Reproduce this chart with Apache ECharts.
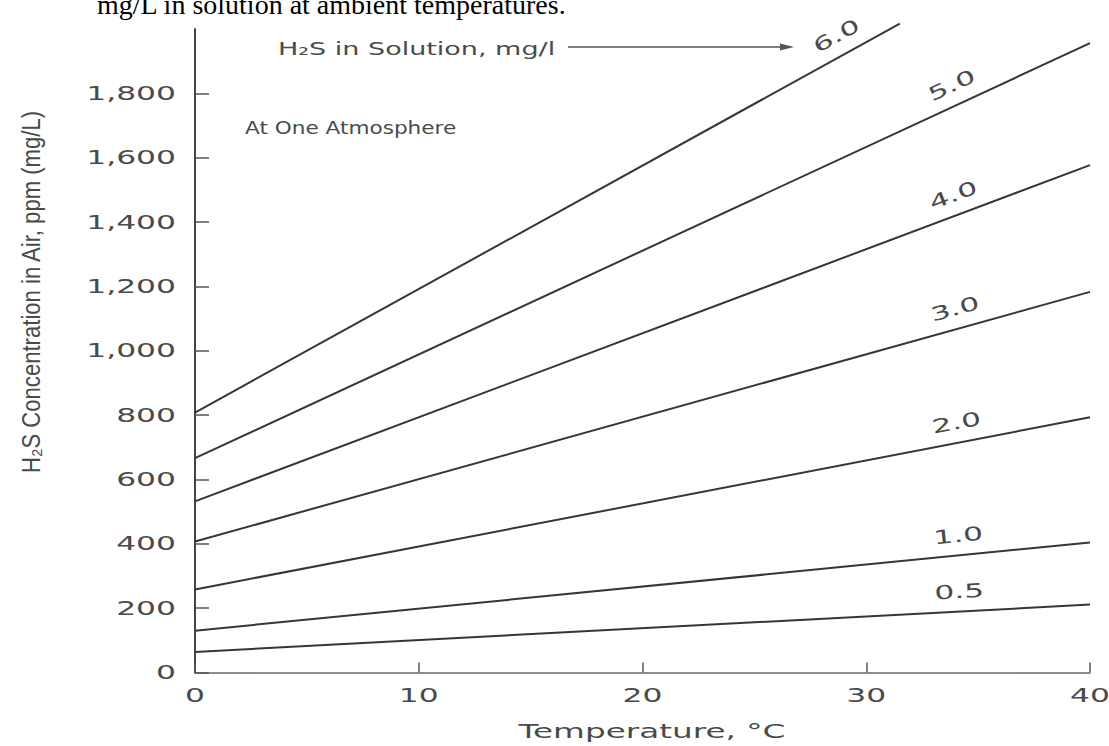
<!DOCTYPE html>
<html>
<head>
<meta charset="utf-8">
<script src="https://cdn.jsdelivr.net/npm/echarts@6/dist/echarts.min.js"></script>
<style>
html,body{margin:0;padding:0;background:#ffffff;}
#chart{width:1109px;height:746px;}
</style>
</head>
<body>
<div id="chart"></div>
<script>
// ---------- data ----------
const temperatureTicks = [0, 10, 20, 30, 40];
const concentrationTicks = [0, 200, 400, 600, 800, 1000, 1200, 1400, 1600, 1800];
const seriesNames = ['0.5', '1.0', '2.0', '3.0', '4.0', '5.0', '6.0'];
const temps05 = [0, 40];   const conc05 = [64, 211];
const temps10 = [0, 40];   const conc10 = [130, 404];
const temps20 = [0, 40];   const conc20 = [258, 793];
const temps30 = [0, 40];   const conc30 = [407, 1183];
const temps40 = [0, 40];   const conc40 = [532, 1577];
const temps50 = [0, 40];   const conc50 = [666, 1956];
const temps60 = [0, 31.5]; const conc60 = [808, 2017];
const titleText = 'mg/L in solution at ambient temperatures.';
const xTitle = 'Temperature, °C';
const yTitle = 'H₂S Concentration in Air, ppm (mg/L)';
const noteSolution = 'H₂S in Solution, mg/l';
const noteAtm = 'At One Atmosphere';

// ---------- styles ----------
const TEMPS = [temps05, temps10, temps20, temps30, temps40, temps50, temps60];
const CONCS = [conc05, conc10, conc20, conc30, conc40, conc50, conc60];
const LABEL_AT = [34.2, 34.2, 34.2, 34.2, 34.2, 34.2, 29.1];
const LABEL_OFFSET = 20;
const NUM_FONT = 'DejaVu Sans';
const TXT = '#4a4a4a';
const LINE = '#363636';

const chart = echarts.init(document.getElementById('chart'), null, {renderer: 'svg'});

const series = seriesNames.map((name, i) => ({
  name: name,
  type: 'line',
  data: TEMPS[i].map((t, j) => [t, CONCS[i][j]]),
  symbol: 'none',
  showSymbol: false,
  clip: false,
  silent: true,
  lineStyle: {color: LINE, width: 2}
}));

const fmt = v => Number(v).toLocaleString('en-US');

chart.setOption({
  animation: false,
  backgroundColor: '#ffffff',
  grid: {left: 195, right: 19, top: 29, bottom: 73.5, containLabel: false, outerBoundsMode: 'none'},
  xAxis: {
    type: 'value', min: 0, max: 40, interval: 10,
    axisLine: {show: true, onZero: false, lineStyle: {color: '#6a6a6a', width: 1.5}},
    axisTick: {show: true, inside: true, length: 10, customValues: temperatureTicks, lineStyle: {color: '#555', width: 1.5}},
    axisLabel: {show: true, margin: 13, customValues: temperatureTicks, formatter: fmt,
      fontFamily: NUM_FONT, fontSize: 19, color: TXT},
    splitLine: {show: false}
  },
  yAxis: {
    type: 'value', min: 0, max: 2000, interval: 200,
    axisLine: {show: true, lineStyle: {color: '#444', width: 2}},
    axisTick: {show: true, inside: true, length: 14, customValues: concentrationTicks, lineStyle: {color: '#555', width: 1.5}},
    axisLabel: {show: true, margin: 19, customValues: concentrationTicks, formatter: fmt,
      fontFamily: NUM_FONT, fontSize: 19, color: TXT},
    splitLine: {show: false}
  },
  series: series
});

// ---------- annotations positioned through the chart's own scales ----------
const graphics = [];
seriesNames.forEach((name, i) => {
  const t = TEMPS[i], c = CONCS[i];
  const p0 = chart.convertToPixel({gridIndex: 0}, [t[0], c[0]]);
  const p1 = chart.convertToPixel({gridIndex: 0}, [t[t.length - 1], c[c.length - 1]]);
  const f = (LABEL_AT[i] - t[0]) / (t[t.length - 1] - t[0]);
  const px = p0[0] + (p1[0] - p0[0]) * f;
  const py = p0[1] + (p1[1] - p0[1]) * f;
  const a = Math.atan2(-(p1[1] - p0[1]), p1[0] - p0[0]);
  const nx = -Math.sin(a), ny = -Math.cos(a);
  graphics.push({
    type: 'text', x: px + nx * LABEL_OFFSET, y: py + ny * LABEL_OFFSET, rotation: a, silent: true,
    style: {text: name, x: 0, y: 0, align: 'center', verticalAlign: 'middle',
      font: '19px "' + NUM_FONT + '"', fill: TXT}
  });
});

graphics.push(
  {type: 'text', x: 97, y: 4, silent: true,
   style: {text: titleText, align: 'left', verticalAlign: 'middle', font: '28px "Liberation Serif"', fill: '#000'}},
  {type: 'text', x: 278, y: 49, silent: true,
   style: {text: noteSolution, align: 'left', verticalAlign: 'middle', font: '18px "' + NUM_FONT + '"', fill: TXT}},
  {type: 'line', silent: true, shape: {x1: 568, y1: 47, x2: 784, y2: 47}, style: {stroke: '#555', lineWidth: 1.5}},
  {type: 'polygon', silent: true, shape: {points: [[794, 47], [780, 43.5], [780, 50.5]]}, style: {fill: '#555'}},
  {type: 'text', x: 245, y: 128, silent: true,
   style: {text: noteAtm, align: 'left', verticalAlign: 'middle', font: '18px "' + NUM_FONT + '"', fill: TXT}},
  {type: 'text', x: 31, y: 292, rotation: Math.PI / 2, silent: true,
   style: {text: yTitle, x: 0, y: 0, align: 'center', verticalAlign: 'middle', font: '26px "Liberation Sans"', fill: TXT}},
  {type: 'text', x: 652, y: 731, silent: true,
   style: {text: xTitle, x: 0, y: 0, align: 'center', verticalAlign: 'middle', font: '19px "' + NUM_FONT + '"', fill: TXT}}
);

chart.setOption({graphic: {elements: graphics}});

// ---------- widen/condense glyphs to match the extended typeface ----------
const SCALE_BY_TEXT = {};
SCALE_BY_TEXT[xTitle] = 1.72;
SCALE_BY_TEXT[noteSolution] = 1.5;
SCALE_BY_TEXT[noteAtm] = 1.2;
SCALE_BY_TEXT[yTitle] = 0.85;
SCALE_BY_TEXT[titleText] = 1;
const DEFAULT_SCALE = 1.65;

function widen() {
  document.querySelectorAll('#chart svg text').forEach(el => {
    const txt = el.textContent;
    let s = SCALE_BY_TEXT[txt];
    if (s === undefined) s = DEFAULT_SCALE;
    if (s === 1) return;
    const cur = el.getAttribute('transform') || '';
    if (el.getAttribute('data-wide') === cur) return;
    const x = parseFloat(el.getAttribute('x') || '0') || 0;
    const y = parseFloat(el.getAttribute('y') || '0') || 0;
    const nt = (cur + ' translate(' + x + ' ' + y + ') scale(' + s + ' 1) translate(' + (-x) + ' ' + (-y) + ')').trim();
    el.setAttribute('transform', nt);
    el.setAttribute('data-wide', nt);
  });
}
widen();
chart.on('finished', widen);
setTimeout(widen, 50);
setTimeout(widen, 300);
</script>
</body>
</html>
